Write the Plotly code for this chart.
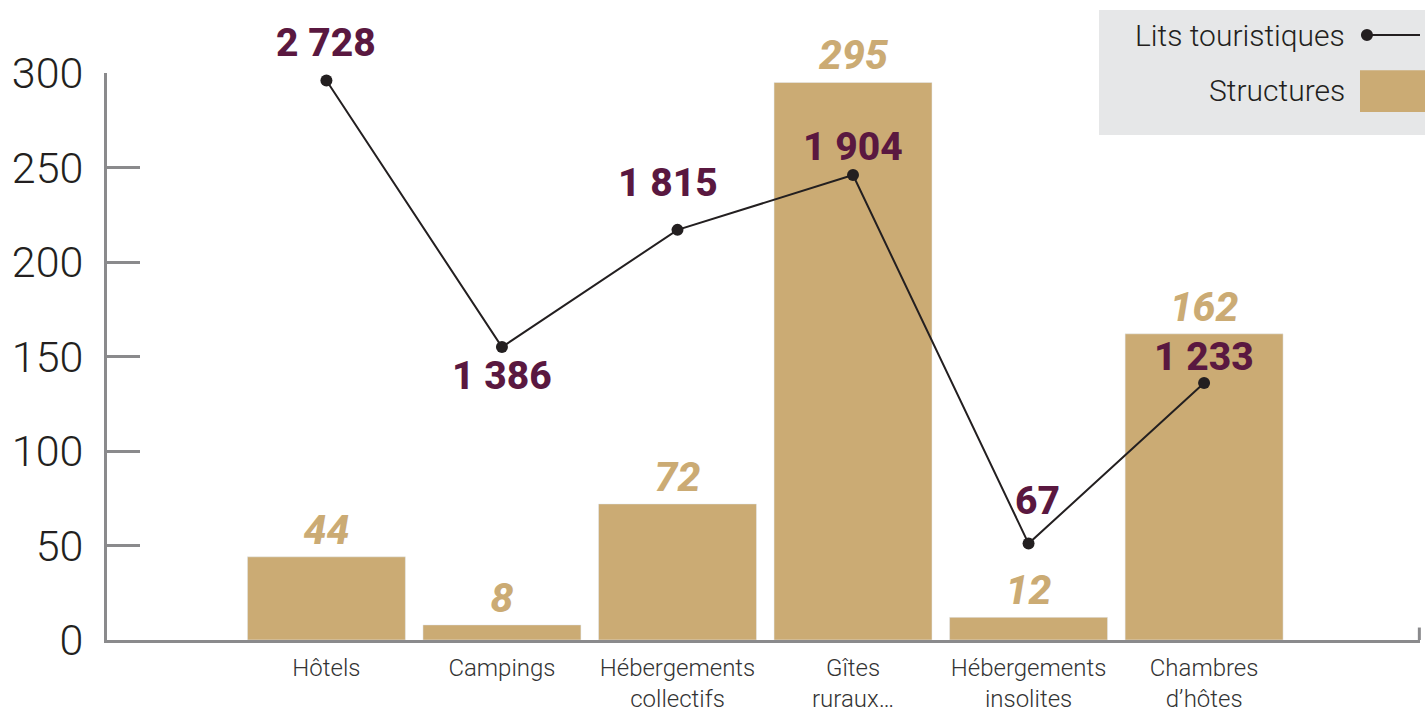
import plotly.graph_objects as go

categories = ["Hôtels", "Campings", "Hébergements<br>collectifs", "Gîtes<br>ruraux…",
              "Hébergements<br>insolites", "Chambres<br>d’hôtes"]
structures = [44, 8, 72, 295, 12, 162]
lits = [2728, 1386, 1815, 1904, 67, 1233]
# height of each line point as drawn on the left scale (the line is not to scale)
lits_height = [296, 155, 217, 246, 51, 136]
lits_label_shift = [38, -29, 47, 28, 43, 26]
lits_label_dx = [0, 0, -9, 0, 9, 0]

gold = "#cbab74"
plum = "#5a1840"
ink = "#231f20"
grey = "#8a8a8c"
base_font = "Roboto"

xs = list(range(len(categories)))


def fmt(v):
    return f"{v:,}".replace(",", " ")


fig = go.Figure()
fig.add_trace(go.Bar(
    x=xs, y=structures, name="Structures", marker_color=gold,
    text=[str(v) for v in structures], textposition="outside",
    textfont=dict(family=base_font, size=41, color=gold, weight=800, style="italic"),
    cliponaxis=False,
))
fig.add_trace(go.Scatter(
    x=xs, y=lits_height, name="Lits touristiques", mode="lines+markers",
    line=dict(color=ink, width=2), marker=dict(color=ink, size=12),
    cliponaxis=False,
))

for x, h, v, dy, dx in zip(xs, lits_height, lits, lits_label_shift, lits_label_dx):
    fig.add_annotation(x=x, y=h, text=fmt(v), showarrow=False, yshift=dy, xshift=dx,
                       font=dict(family=base_font, size=39, color=plum, weight=800))

# custom legend block
fig.add_shape(type="rect", xref="paper", yref="paper", x0=0.7555, x1=1.01, y0=1.111, y1=0.8907,
              fillcolor="#e6e7e8", line_width=0, layer="below")
fig.add_shape(type="line", xref="paper", yref="paper", x0=0.9596, x1=1.0, y0=1.067, y1=1.067,
              line=dict(color=ink, width=2))
fig.add_shape(type="circle", xref="paper", yref="paper", x0=0.955, x1=0.9642, y0=1.0564, y1=1.0776,
              fillcolor=ink, line_width=0)
fig.add_shape(type="rect", xref="paper", yref="paper", x0=0.9543, x1=1.01, y0=0.931, y1=1.005,
              fillcolor=gold, line_width=0)
fig.add_annotation(xref="paper", yref="paper", x=0.9444, y=1.067, text="Lits touristiques",
                   showarrow=False, xanchor="right", yanchor="middle",
                   font=dict(family=base_font, size=30, color=ink, weight=300))
fig.add_annotation(xref="paper", yref="paper", x=0.9444, y=0.970, text="Structures",
                   showarrow=False, xanchor="right", yanchor="middle",
                   font=dict(family=base_font, size=30, color=ink, weight=300))
# end tick on x axis
fig.add_shape(type="line", xref="paper", yref="paper", x0=0.9995, x1=0.9995, y0=0, y1=0.022,
              line=dict(color=grey, width=3))

fig.update_layout(
    width=1425, height=715,
    margin=dict(l=107, r=5, t=73, b=75),
    paper_bgcolor="white", plot_bgcolor="white",
    showlegend=False, bargap=0.1,
    font=dict(family=base_font, color=ink),
)
fig.update_xaxes(
    range=[-1.25, 6.23], tickvals=xs, ticktext=categories, automargin=False,
    showline=True, linecolor=grey, linewidth=3, ticks="", showgrid=False, zeroline=False,
    ticklabelstandoff=4,
    tickfont=dict(family=base_font, size=24, color="#333333", weight=300),
)
fig.update_yaxes(
    range=[0, 300], dtick=50, showline=True, linecolor=grey, linewidth=3, automargin=False,
    ticks="inside", ticklen=33, tickwidth=3, tickcolor=grey,
    showgrid=False, zeroline=False, ticklabelstandoff=12,
    tickfont=dict(family=base_font, size=43, color=ink, weight=300),
)

fig.write_html("out.html", config={"displayModeBar": False},
               post_script="document.body.style.margin = '0';")
